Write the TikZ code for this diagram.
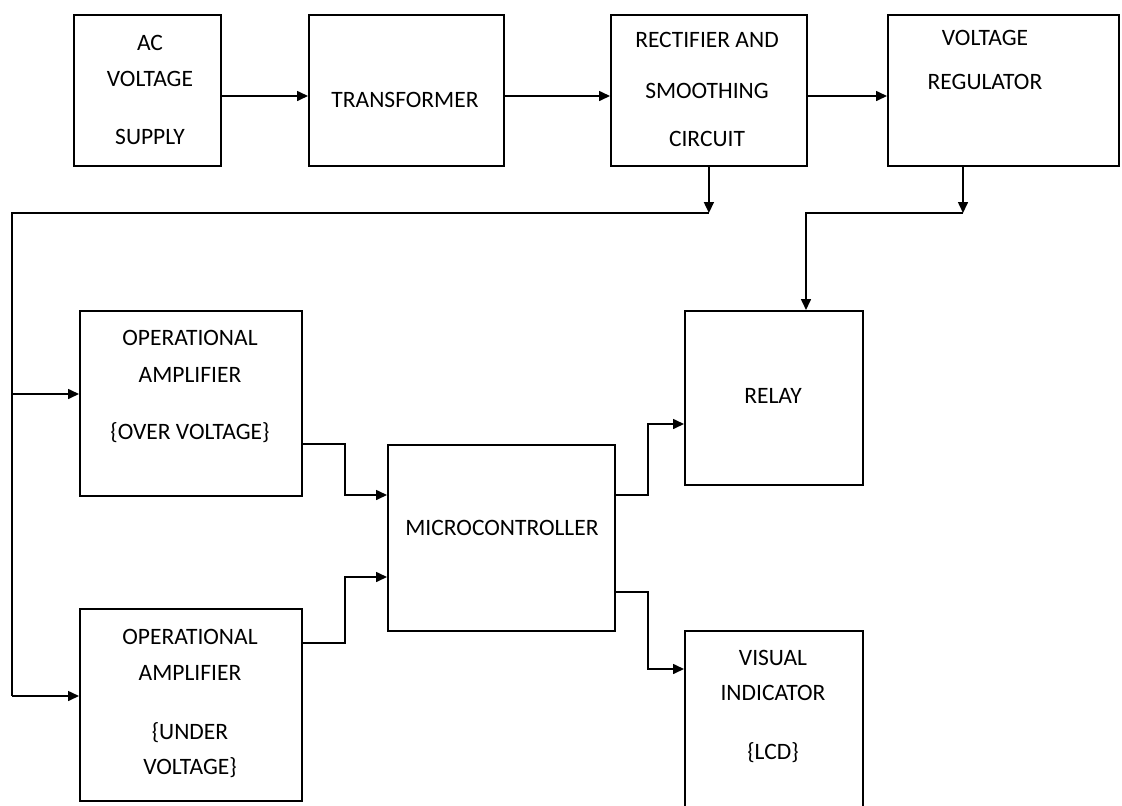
\documentclass[tikz,border=0pt]{standalone}
\usepackage{fontspec}
\setmainfont{Carlito}
\usetikzlibrary{arrows.meta}
\tikzset{
  box/.style={draw, line width=1.8pt, rectangle, inner sep=0pt, anchor=north west},
  lbl/.style={font=\fontsize{23.5}{26}\selectfont, inner sep=0pt, anchor=center},
  wire/.style={line width=1.6pt},
  arr/.style={line width=1.6pt, -{Triangle[length=11pt,width=10pt]}}
}
\begin{document}
\begin{tikzpicture}[x=1pt,y=-1pt]
\useasboundingbox (0,0) rectangle (1122,806);
\fill[white] (0,0) rectangle (1122,806);
% boxes
\node[box, minimum width=147pt, minimum height=151pt] (ac) at (73,14) {};
\node[box, minimum width=195pt, minimum height=151pt] (tr) at (308,14) {};
\node[box, minimum width=196pt, minimum height=151pt] (rect) at (610,14) {};
\node[box, minimum width=231pt, minimum height=151pt] (reg) at (887,14) {};
\node[box, minimum width=222pt, minimum height=185pt] (over) at (79,310) {};
\node[box, minimum width=222pt, minimum height=192pt] (under) at (79,608) {};
\node[box, minimum width=227pt, minimum height=186pt] (mcu) at (387,444) {};
\node[box, minimum width=178pt, minimum height=174pt] (relay) at (684,310) {};
\node[box, minimum width=178pt, minimum height=200pt] (vis) at (684,630) {};
% labels
\node[lbl] (t1) at (150,43) {AC};
\node[lbl] (t2) at (150,79) {VOLTAGE};
\node[lbl] (t3) at (150,137) {SUPPLY};
\node[lbl] (t4) at (405,100) {TRANSFORMER};
\node[lbl] (t5) at (707,40) {RECTIFIER AND};
\node[lbl] (t6) at (707,91) {SMOOTHING};
\node[lbl] (t7) at (707,139) {CIRCUIT};
\node[lbl] (t8) at (985,38) {VOLTAGE};
\node[lbl] (t9) at (985,82) {REGULATOR};
\node[lbl] (t10) at (190,338) {OPERATIONAL};
\node[lbl] (t11) at (190,375) {AMPLIFIER};
\node[lbl] (t12) at (190,433) {\{OVER VOLTAGE\}};
\node[lbl] (t13) at (190,637) {OPERATIONAL};
\node[lbl] (t14) at (190,673) {AMPLIFIER};
\node[lbl] (t15) at (190,733) {\{UNDER};
\node[lbl] (t16) at (190,768) {VOLTAGE\}};
\node[lbl] (t17) at (502,528) {MICROCONTROLLER};
\node[lbl] (t18) at (773,396) {RELAY};
\node[lbl] (t19) at (773,658) {VISUAL};
\node[lbl] (t20) at (773,693) {INDICATOR};
\node[lbl] (t21) at (773,753) {\{LCD\}};
% helper coordinates
\coordinate (rowy) at (0,96);
\coordinate (bus) at (12,213);
\coordinate (busO) at (12,394);
\coordinate (busU) at (12,696);
\coordinate (regB) at (963,213);
\coordinate (relT) at (806,213);
\coordinate (oj) at (345,444);
\coordinate (uj) at (345,643);
\coordinate (mj) at (648,495);
\coordinate (vj) at (648,592);
% top row
\draw[arr] (ac.east |- rowy) -- (tr.west |- rowy);
\draw[arr] (tr.east |- rowy) -- (rect.west |- rowy);
\draw[arr] (rect.east |- rowy) -- (reg.west |- rowy);
% supply bus
\draw[arr] (rect.south) -- (rect.south |- bus);
\draw[wire] (rect.south |- bus) -- (bus) -- (busU);
\draw[arr] (busO) -- (busO -| over.west);
\draw[arr] (busU) -- (busU -| under.west);
% regulator to relay
\draw[arr] (regB |- reg.south) -- (regB);
\draw[arr] (regB) -- (relT) -- (relT |- relay.north);
% op amps to microcontroller
\draw[arr] (over.east |- oj) -- (oj) -- (oj |- 0,495) -- (mcu.west |- 0,495);
\draw[arr] (under.east |- uj) -- (uj) -- (uj |- 0,577) -- (mcu.west |- 0,577);
% microcontroller outputs
\draw[arr] (mcu.east |- mj) -- (mj) -- (mj |- 0,424) -- (relay.west |- 0,424);
\draw[arr] (mcu.east |- vj) -- (vj) -- (vj |- 0,669) -- (vis.west |- 0,669);
\end{tikzpicture}
\end{document}
